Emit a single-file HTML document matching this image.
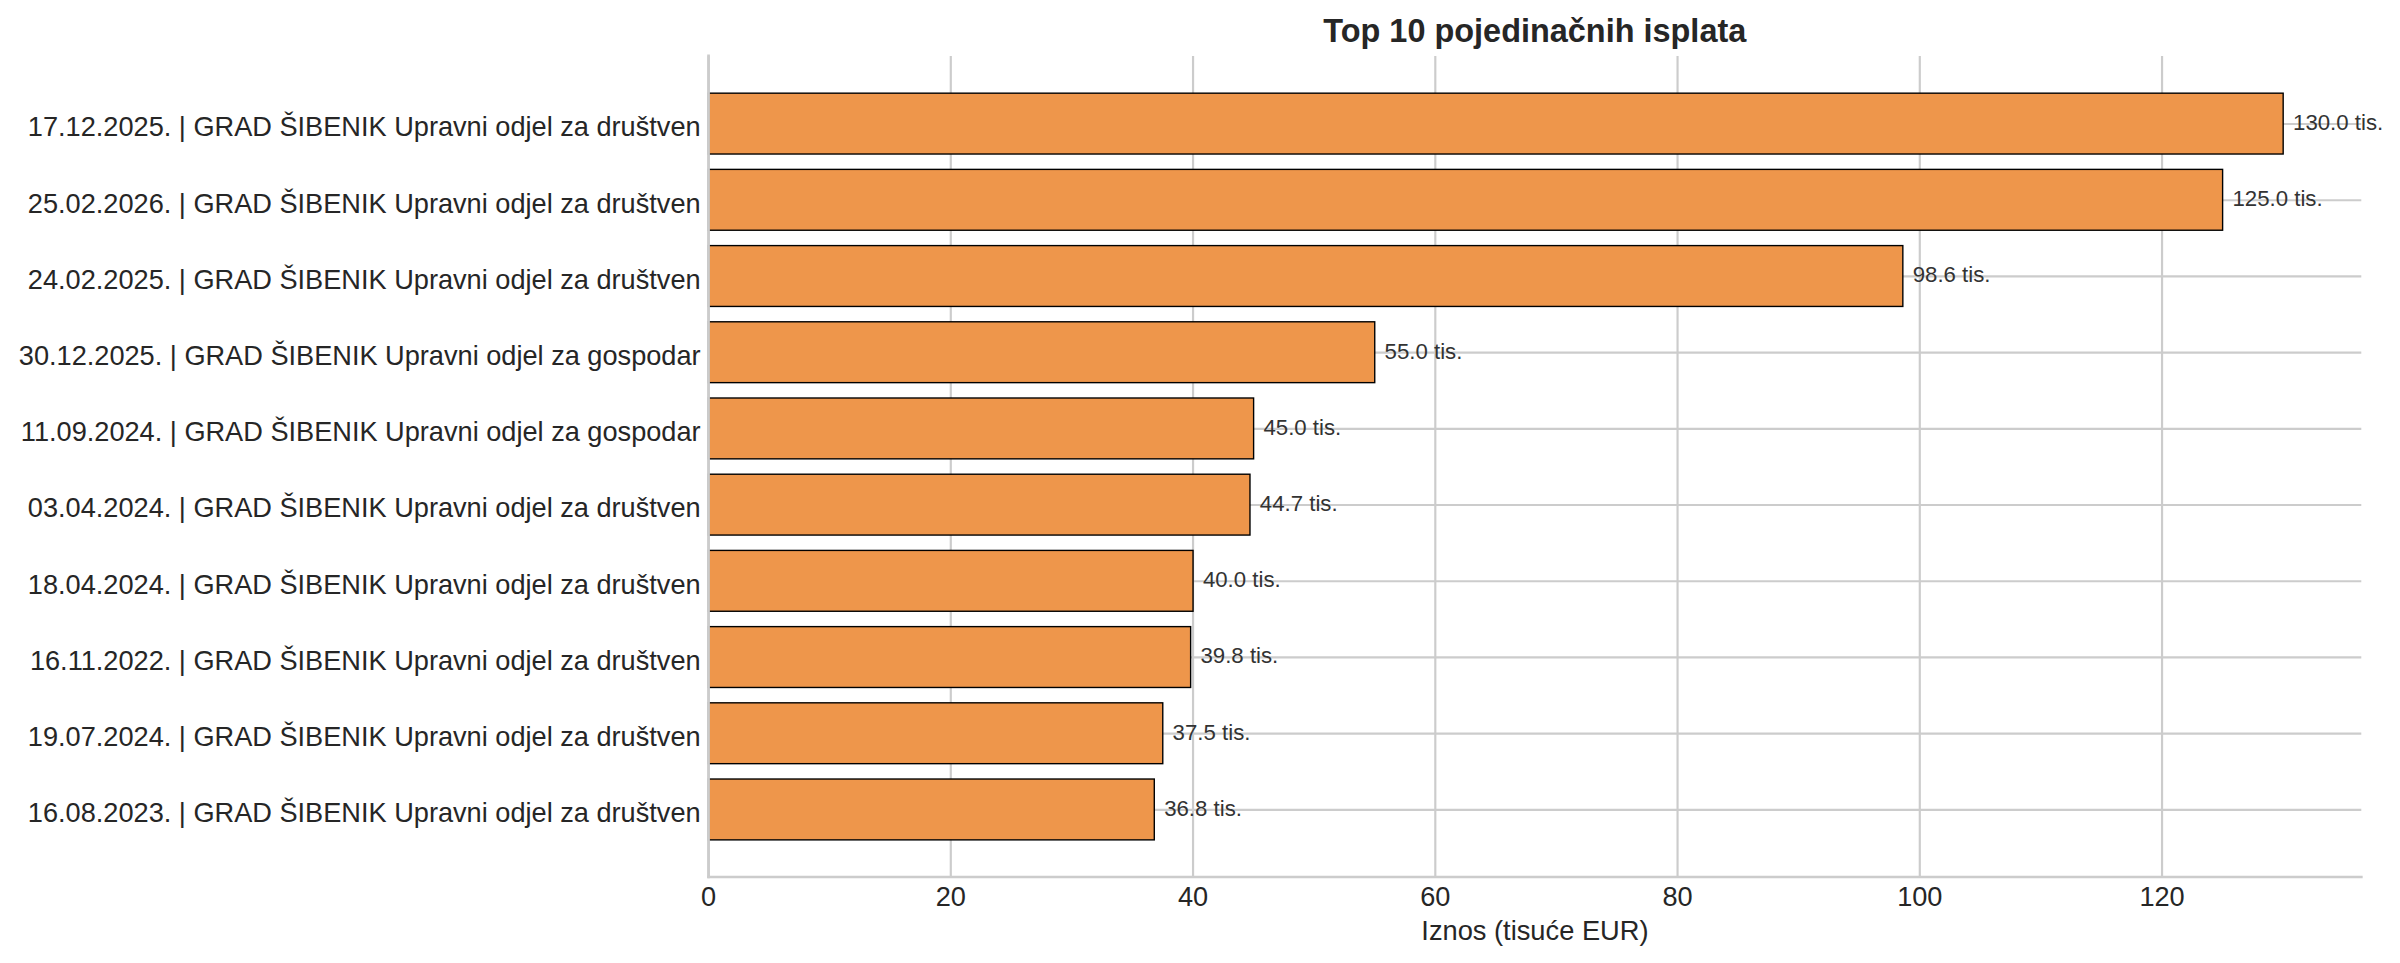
<!DOCTYPE html>
<html lang="hr"><head><meta charset="utf-8"><title>Top 10 pojedinačnih isplata</title>
<style>html,body{margin:0;padding:0;background:#fff}body{width:2400px;height:963px;overflow:hidden}svg{display:block}text{font-family:"Liberation Sans",sans-serif;fill:#262626}.yt{font-size:27.17px;text-anchor:end}.xt{font-size:27.17px;text-anchor:middle}.vl{font-size:22.22px;text-anchor:start;fill:#333333}.ti{font-size:32.45px;font-weight:bold;text-anchor:middle}.xl{font-size:27.25px;text-anchor:middle}.g{stroke:#cccccc;stroke-width:2.17;fill:none}.sp{stroke:#cccccc;stroke-width:2.72;fill:none;stroke-linecap:square}.b{fill:#ee964b;stroke:#000000;stroke-width:1.39;stroke-linejoin:miter}</style></head><body>
<svg width="2400" height="963" viewBox="0 0 2400 963">
<rect width="2400" height="963" fill="#ffffff"/>
<g class="g">
<line x1="708.55" y1="55.90" x2="708.55" y2="877.00"/>
<line x1="950.80" y1="55.90" x2="950.80" y2="877.00"/>
<line x1="1193.05" y1="55.90" x2="1193.05" y2="877.00"/>
<line x1="1435.30" y1="55.90" x2="1435.30" y2="877.00"/>
<line x1="1677.55" y1="55.90" x2="1677.55" y2="877.00"/>
<line x1="1919.80" y1="55.90" x2="1919.80" y2="877.00"/>
<line x1="2162.05" y1="55.90" x2="2162.05" y2="877.00"/>
<line x1="708.55" y1="124.00" x2="2361.30" y2="124.00"/>
<line x1="708.55" y1="200.21" x2="2361.30" y2="200.21"/>
<line x1="708.55" y1="276.41" x2="2361.30" y2="276.41"/>
<line x1="708.55" y1="352.62" x2="2361.30" y2="352.62"/>
<line x1="708.55" y1="428.82" x2="2361.30" y2="428.82"/>
<line x1="708.55" y1="505.03" x2="2361.30" y2="505.03"/>
<line x1="708.55" y1="581.24" x2="2361.30" y2="581.24"/>
<line x1="708.55" y1="657.44" x2="2361.30" y2="657.44"/>
<line x1="708.55" y1="733.65" x2="2361.30" y2="733.65"/>
<line x1="708.55" y1="809.85" x2="2361.30" y2="809.85"/>
</g>
<g class="b">
<rect x="708.55" y="93.17" width="1574.62" height="60.85"/>
<rect x="708.55" y="169.38" width="1514.06" height="60.85"/>
<rect x="708.55" y="245.59" width="1194.29" height="60.85"/>
<rect x="708.55" y="321.79" width="666.19" height="60.85"/>
<rect x="708.55" y="398.00" width="545.06" height="60.85"/>
<rect x="708.55" y="474.21" width="541.43" height="60.85"/>
<rect x="708.55" y="550.41" width="484.50" height="60.85"/>
<rect x="708.55" y="626.62" width="482.08" height="60.85"/>
<rect x="708.55" y="702.82" width="454.22" height="60.85"/>
<rect x="708.55" y="779.03" width="445.74" height="60.85"/>
</g>
<g class="sp"><line x1="708.55" y1="55.90" x2="708.55" y2="877.00"/><line x1="708.55" y1="877.00" x2="2361.30" y2="877.00"/></g>
<text class="vl" transform="translate(2293.03 130.00) scale(1 1.03)">130.0 tis.</text>
<text class="vl" transform="translate(2232.46 206.21) scale(1 1.03)">125.0 tis.</text>
<text class="vl" transform="translate(1912.69 282.41) scale(1 1.03)">98.6 tis.</text>
<text class="vl" transform="translate(1384.59 358.62) scale(1 1.03)">55.0 tis.</text>
<text class="vl" transform="translate(1263.46 434.82) scale(1 1.03)">45.0 tis.</text>
<text class="vl" transform="translate(1259.83 511.03) scale(1 1.03)">44.7 tis.</text>
<text class="vl" transform="translate(1202.90 587.24) scale(1 1.03)">40.0 tis.</text>
<text class="vl" transform="translate(1200.48 663.44) scale(1 1.03)">39.8 tis.</text>
<text class="vl" transform="translate(1172.62 739.65) scale(1 1.03)">37.5 tis.</text>
<text class="vl" transform="translate(1164.14 815.85) scale(1 1.03)">36.8 tis.</text>
<text class="yt" x="700.60" y="136.40">17.12.2025. | GRAD ŠIBENIK Upravni odjel za društven</text>
<text class="yt" x="700.60" y="212.61">25.02.2026. | GRAD ŠIBENIK Upravni odjel za društven</text>
<text class="yt" x="700.60" y="288.81">24.02.2025. | GRAD ŠIBENIK Upravni odjel za društven</text>
<text class="yt" x="700.60" y="365.02">30.12.2025. | GRAD ŠIBENIK Upravni odjel za gospodar</text>
<text class="yt" x="700.60" y="441.22">11.09.2024. | GRAD ŠIBENIK Upravni odjel za gospodar</text>
<text class="yt" x="700.60" y="517.43">03.04.2024. | GRAD ŠIBENIK Upravni odjel za društven</text>
<text class="yt" x="700.60" y="593.64">18.04.2024. | GRAD ŠIBENIK Upravni odjel za društven</text>
<text class="yt" x="700.60" y="669.84">16.11.2022. | GRAD ŠIBENIK Upravni odjel za društven</text>
<text class="yt" x="700.60" y="746.05">19.07.2024. | GRAD ŠIBENIK Upravni odjel za društven</text>
<text class="yt" x="700.60" y="822.25">16.08.2023. | GRAD ŠIBENIK Upravni odjel za društven</text>
<text class="xt" transform="translate(708.55 905.80) scale(1 1.035)">0</text>
<text class="xt" transform="translate(950.80 905.80) scale(1 1.035)">20</text>
<text class="xt" transform="translate(1193.05 905.80) scale(1 1.035)">40</text>
<text class="xt" transform="translate(1435.30 905.80) scale(1 1.035)">60</text>
<text class="xt" transform="translate(1677.55 905.80) scale(1 1.035)">80</text>
<text class="xt" transform="translate(1919.80 905.80) scale(1 1.035)">100</text>
<text class="xt" transform="translate(2162.05 905.80) scale(1 1.035)">120</text>
<text class="xl" x="1534.93" y="940.00">Iznos (tisuće EUR)</text>
<text class="ti" x="1534.80" y="42.20">Top 10 pojedinačnih isplata</text>
</svg></body></html>
